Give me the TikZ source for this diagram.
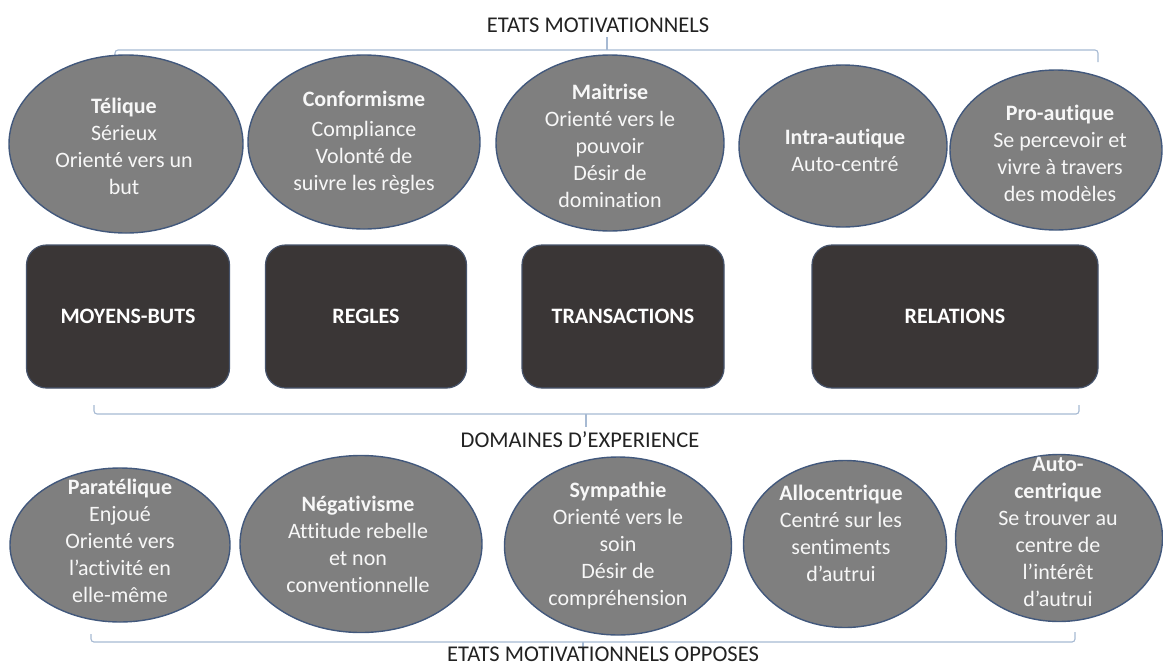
\documentclass[tikz,border=0pt]{standalone}
\usepackage{fontspec}
\setmainfont{Carlito}[Ligatures=NoCommon]
\usetikzlibrary{shapes.geometric}
\definecolor{ellfill}{HTML}{7F7F7F}
\definecolor{elledge}{HTML}{42587C}
\definecolor{boxfill}{HTML}{3A3636}
\definecolor{boxedge}{HTML}{46536B}
\definecolor{bracecol}{HTML}{A7BAD3}
\definecolor{etext}{HTML}{F7F7F7}
\definecolor{captext}{HTML}{222222}
\begin{document}
\begin{tikzpicture}[x=1pt,y=-1pt,
  ell/.style={ellipse, draw=elledge, line width=1.4pt, fill=ellfill, inner sep=0pt},
  etxt/.style={text=etext, font=\fontsize{22}{27}\selectfont, align=center, inner sep=0pt},
  dbox/.style={rectangle, rounded corners=20pt, draw=boxedge, line width=1.2pt, fill=boxfill,
    text=white, font=\fontsize{22}{27}\selectfont\bfseries, minimum height=143pt, inner sep=0pt},
  brk/.style={draw=bracecol, line width=1.1pt, rounded corners=3pt},
  captxt/.style={font=\fontsize{22.5}{26}\selectfont, text=captext, inner sep=0pt}
]
\useasboundingbox (0,0) rectangle (1163,665);
\fill[white] (0,0) rectangle (1163,665);

% ---- top bracket and title
\node[captxt] (toptitle) at (598,25) {ETATS MOTIVATIONNELS};
\coordinate (tb1) at (115,60);
\coordinate (tb2) at (115,50);
\coordinate (tb3) at (1098,50);
\coordinate (tb4) at (1098,62);
\coordinate (tbm) at (607,50);
\coordinate (tbt) at (607,37);
\draw[brk] (tb1) -- (tb2) -- (tb3) -- (tb4);
\draw[brk] (tbm) -- (tbt);

% ---- top ellipses
\node[ell, minimum width=234pt, minimum height=178pt] (e1) at (126,144) {};
\node[etxt] (e1t) at (124,146) {\textbf{Télique}\\Sérieux\\Orienté vers un\\but};
\node[ell, minimum width=232pt, minimum height=174pt] (e2) at (364,142) {};
\node[etxt] (e2t) at (364,143) {\textbf{Conformisme}\\[3pt]Compliance\\Volonté de\\suivre les règles};
\node[ell, minimum width=228pt, minimum height=176pt] (e3) at (610,143) {};
\node[etxt] (e3t) at (610,146) {\textbf{Maitrise}\\Orienté vers le\\pouvoir\\Désir de\\domination};
\node[ell, minimum width=208pt, minimum height=162pt] (e4) at (843,146) {};
\node[etxt] (e4t) at (845,150) {\textbf{Intra-autique}\\Auto-centré};
\node[ell, minimum width=212pt, minimum height=160pt] (e5) at (1056,150) {};
\node[etxt] (e5t) at (1060,153) {\textbf{Pro-autique}\\Se percevoir et\\vivre à travers\\des modèles};

% ---- domain boxes
\node[dbox, minimum width=203pt] (b1) at (128,316.5) {MOYENS-BUTS};
\node[dbox, minimum width=201pt] (b2) at (366,316.5) {REGLES};
\node[dbox, minimum width=202pt] (b3) at (623,316.5) {TRANSACTIONS};
\node[dbox, minimum width=286pt] (b4) at (955,316.5) {RELATIONS};

% ---- middle bracket and title
\coordinate (mb1) at (94,405);
\coordinate (mb2) at (94,414);
\coordinate (mb3) at (1079,414);
\coordinate (mb4) at (1079,405);
\coordinate (mbm) at (586,414);
\coordinate (mbt) at (586,427);
\draw[brk] (mb1) -- (mb2) -- (mb3) -- (mb4);
\draw[brk] (mbm) -- (mbt);
\node[captxt] (midtitle) at (580,440) {DOMAINES D’EXPERIENCE};

% ---- bottom ellipses
\node[ell, minimum width=220pt, minimum height=154pt] (o1) at (120,545) {};
\node[etxt] (o1t) at (120,541) {\textbf{Paratélique}\\Enjoué\\Orienté vers\\l’activité en\\elle-même};
\node[ell, minimum width=242pt, minimum height=177pt] (o2) at (361,544) {};
\node[etxt] (o2t) at (358,544) {\textbf{Négativisme}\\Attitude rebelle\\et non\\conventionnelle};
\node[ell, minimum width=227pt, minimum height=178pt] (o3) at (618,546) {};
\node[etxt] (o3t) at (618,546) {\textbf{Sympathie}\\Orienté vers le\\soin\\Désir de\\compréhension};
\node[ell, minimum width=203pt, minimum height=167pt] (o4) at (845,544) {};
\node[etxt] (o4t) at (841,533) {\textbf{Allocentrique}\\Centré sur les\\sentiments\\d’autrui};
\node[ell, minimum width=207pt, minimum height=167pt] (o5) at (1059,538) {};
\node[etxt] (o5t) at (1058,532) {\textbf{Auto-}\\\textbf{centrique}\\Se trouver au\\centre de\\l’intérêt\\d’autrui};

% ---- bottom bracket and title
\coordinate (bb1) at (91,634);
\coordinate (bb2) at (91,642);
\coordinate (bb3) at (1075,642);
\coordinate (bb4) at (1075,632);
\coordinate (bbm) at (583,642);
\coordinate (bbt) at (583,650);
\draw[brk] (bb1) -- (bb2) -- (bb3) -- (bb4);
\draw[brk] (bbm) -- (bbt);
\node[captxt] (bottitle) at (603,654) {ETATS MOTIVATIONNELS OPPOSES};
\end{tikzpicture}
\end{document}
